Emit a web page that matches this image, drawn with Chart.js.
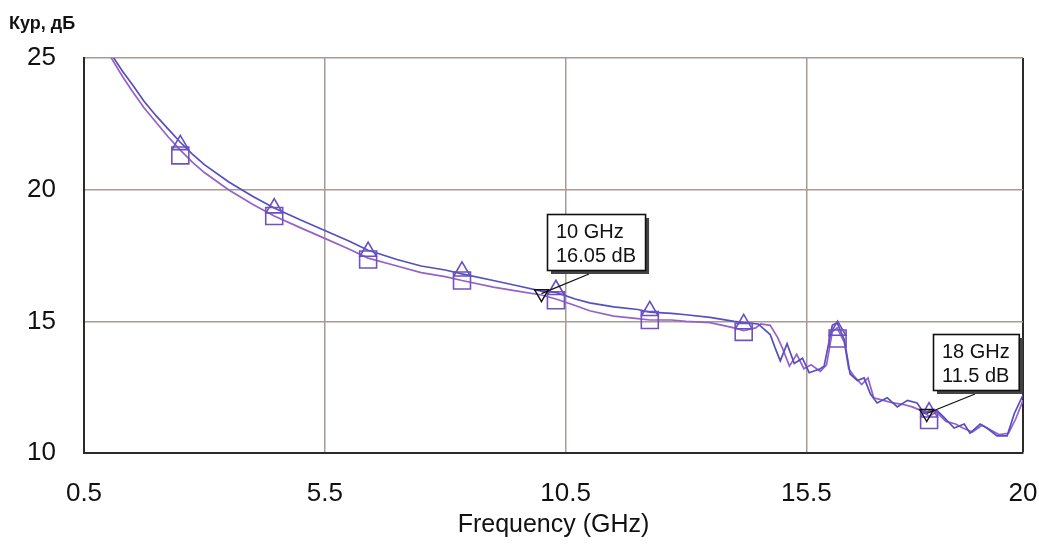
<!DOCTYPE html>
<html>
<head>
<meta charset="utf-8">
<script src="https://cdn.jsdelivr.net/npm/chart.js@4.4.1/dist/chart.umd.min.js"></script>
<style>
html,body{margin:0;padding:0;background:#fff;}
#wrap{position:relative;width:1039px;height:545px;}
</style>
</head>
<body>
<div id="wrap"><canvas id="c" width="1039" height="545"></canvas></div>
<script>
// ---- data ----
const yTitle = "Кур, дБ";
const xTitle = "Frequency (GHz)";
const xTickVals = [0.5, 5.5, 10.5, 15.5, 20];
const yTickVals = [10, 15, 20, 25];

// upper curve (triangles)
const freqA = [1.05, 1.1, 1.3, 1.5, 1.75, 2.0, 2.25, 2.5, 2.75, 3.0, 3.5, 4.0, 4.45, 5.0, 5.5, 6.0, 6.4, 7.0, 7.5, 8.0, 8.35, 9.0, 9.5, 10.0, 10.3, 10.7, 11.0, 11.5, 12.0, 12.25, 12.7, 13.0, 13.5, 14.0, 14.2, 14.5, 14.75, 14.85, 14.96, 15.1, 15.25, 15.42, 15.56, 15.79, 15.87, 16.04, 16.14, 16.29, 16.41, 16.56, 16.7, 16.83, 16.97, 17.18, 17.39, 17.6, 17.8, 17.95, 18.1, 18.22, 18.36, 18.57, 18.78, 18.9, 19.11, 19.25, 19.46, 19.67, 19.82, 20.0];
const valA  = [25.2, 25.05, 24.5, 24.0, 23.35, 22.8, 22.3, 21.8, 21.35, 20.95, 20.3, 19.75, 19.3, 18.85, 18.45, 18.05, 17.7, 17.35, 17.1, 16.95, 16.8, 16.55, 16.35, 16.15, 16.1, 15.85, 15.7, 15.55, 15.45, 15.35, 15.3, 15.25, 15.15, 15.0, 14.95, 14.9, 14.5, 14.0, 13.5, 14.15, 13.4, 13.6, 13.05, 13.2, 13.3, 14.85, 14.95, 14.3, 13.0, 12.75, 12.85, 12.25, 11.9, 12.1, 11.75, 12.0, 11.9, 11.5, 11.65, 11.6, 11.35, 10.95, 11.1, 10.75, 11.1, 10.95, 10.65, 10.65, 11.5, 12.2];

// lower curve (squares)
const freqB = [1.0, 1.05, 1.3, 1.5, 1.75, 2.0, 2.25, 2.5, 2.75, 3.0, 3.5, 4.0, 4.45, 5.0, 5.5, 6.0, 6.4, 7.0, 7.5, 8.0, 8.35, 9.0, 9.5, 10.0, 10.3, 10.7, 11.0, 11.5, 12.0, 12.25, 12.7, 13.0, 13.5, 14.0, 14.2, 14.45, 14.55, 14.75, 14.9, 15.0, 15.15, 15.3, 15.45, 15.6, 15.79, 15.92, 16.04, 16.14, 16.29, 16.38, 16.5, 16.65, 16.78, 16.9, 17.1, 17.3, 17.5, 17.7, 17.9, 18.05, 18.2, 18.4, 18.6, 18.75, 18.95, 19.15, 19.3, 19.5, 19.7, 19.85, 20.0];
const valB  = [25.2, 25.05, 24.3, 23.75, 23.1, 22.55, 22.0, 21.5, 21.05, 20.65, 20.0, 19.45, 19.0, 18.55, 18.15, 17.75, 17.4, 17.1, 16.85, 16.7, 16.55, 16.3, 16.15, 16.0, 15.85, 15.6, 15.4, 15.2, 15.1, 15.05, 15.05, 15.0, 14.95, 14.75, 14.65, 14.75, 14.9, 14.85, 14.4, 14.0, 13.3, 13.75, 13.2, 13.35, 13.1, 13.35, 14.6, 14.75, 14.2, 13.2, 12.9, 12.6, 12.85, 12.1, 12.0, 11.9, 11.85, 11.75, 11.6, 11.4, 11.55, 11.2, 11.1, 10.95, 10.8, 11.05, 10.9, 10.7, 10.75, 11.3, 12.0];

// marker positions
const markFreq = [2.5, 4.45, 6.4, 8.35, 10.3, 12.25, 14.2, 16.15, 18.05];
const markTri  = [21.7, 19.3, 17.65, 16.9, 16.2, 15.4, 14.9, 14.65, 11.55];
const markSq   = [21.3, 19.0, 17.35, 16.55, 15.8, 15.05, 14.6, 14.35, 11.25];

// annotations
const annFreq = [10, 18];
const annVal  = [16.05, 11.5];
const annText = [["10 GHz", "16.05 dB"], ["18 GHz", "11.5 dB"]];

// ---- styles ----
const colA = "#5450bf";
const colB = "#9761c8";
const colTri = "#6650c2";
const colSq = "#7352bd";
const gridCol = "#a89b95";
const axisCol = "#2a2a2a";
const FONT = "'Liberation Sans', Arial, sans-serif";

const pts = (xs, ys) => xs.map((x, i) => ({x: x, y: ys[i]}));

const textPlugin = {
  id: 'texts',
  afterDraw(chart) {
    const ctx = chart.ctx;
    const ca = chart.chartArea;
    ctx.save();
    ctx.fillStyle = "#111";
    ctx.font = "bold 18px " + FONT;
    ctx.textAlign = "left";
    ctx.textBaseline = "alphabetic";
    ctx.fillText(yTitle, 9, 29);
    ctx.font = "25px " + FONT;
    ctx.textAlign = "center";
    ctx.textBaseline = "middle";
    ctx.fillText(xTitle, (ca.left + ca.right) / 2, 525);

    // annotations
    const xs = chart.scales.x, ys = chart.scales.y;
    ctx.font = "20px " + FONT;
    annFreq.forEach((f, i) => {
      const px = xs.getPixelForValue(f);
      const py = ys.getPixelForValue(annVal[i]);
      const lines = annText[i];
      const w = Math.max(...lines.map(t => ctx.measureText(t).width)) + 18;
      const h = 56;
      const bx = Math.round(px + 6), by = Math.round(py - 80);
      // leader
      ctx.strokeStyle = "#111";
      ctx.lineWidth = 1.3;
      ctx.beginPath();
      ctx.moveTo(px, py);
      ctx.lineTo(bx + 42, by + h + 4);
      ctx.stroke();
      // shadow
      ctx.fillStyle = "#444";
      ctx.fillRect(bx + 4, by + 4, w, h);
      ctx.fillStyle = "#fff";
      ctx.fillRect(bx, by, w, h);
      ctx.strokeStyle = "#111";
      ctx.lineWidth = 1.6;
      ctx.strokeRect(bx + 0.5, by + 0.5, w, h);
      ctx.fillStyle = "#111";
      ctx.textAlign = "left";
      ctx.textBaseline = "alphabetic";
      ctx.fillText(lines[0], bx + 9, by + 24);
      ctx.fillText(lines[1], bx + 9, by + 48);
    });
    ctx.restore();
  }
};

new Chart(document.getElementById('c'), {
  type: 'scatter',
  data: {
    datasets: [
      {data: pts(annFreq, annVal), showLine: false, pointStyle: 'triangle', rotation: 180, pointRadius: 8, borderColor: "#111", backgroundColor: "rgba(0,0,0,0)", borderWidth: 1.4, order: 0},
      {data: pts(markFreq, markTri), showLine: false, pointStyle: 'triangle', pointRadius: 9.5, borderColor: colTri, backgroundColor: "rgba(0,0,0,0)", borderWidth: 1.6, order: 1},
      {data: pts(markFreq, markSq), showLine: false, pointStyle: 'rect', pointRadius: 12, borderColor: colSq, backgroundColor: "rgba(0,0,0,0)", borderWidth: 1.6, order: 2},
      {data: pts(freqA, valA), showLine: true, borderColor: colA, borderWidth: 1.7, pointRadius: 0, tension: 0, order: 3},
      {data: pts(freqB, valB), showLine: true, borderColor: colB, borderWidth: 1.7, pointRadius: 0, tension: 0, order: 4}
    ]
  },
  options: {
    responsive: false,
    animation: false,
    events: [],
    layout: {padding: {top: 58, right: 16, bottom: 0, left: 0}},
    plugins: {legend: {display: false}, tooltip: {enabled: false}},
    scales: {
      x: {
        type: 'linear', min: 0.5, max: 20,
        afterBuildTicks: s => { s.ticks = xTickVals.map(v => ({value: v})); },
        afterFit: s => { s.height = 92; s.paddingLeft = 0; s.paddingRight = 0; s.paddingTop = 0; s.paddingBottom = 0; },
        ticks: {color: "#111", font: {family: FONT, size: 26}, padding: 25, maxRotation: 0, autoSkip: false, callback: v => String(v)},
        grid: {
          drawTicks: false,
          color: c => (c.tick && c.tick.value === 20) ? axisCol : gridCol,
          lineWidth: c => (c.tick && c.tick.value === 20) ? 2 : 1.5
        },
        border: {display: true, color: axisCol, width: 2}
      },
      y: {
        type: 'linear', min: 10, max: 25,
        afterBuildTicks: s => { s.ticks = yTickVals.map(v => ({value: v})); },
        afterFit: s => { s.width = 84; s.paddingLeft = 0; s.paddingRight = 0; s.paddingTop = 0; s.paddingBottom = 0; },
        ticks: {color: "#111", font: {family: FONT, size: 26}, padding: 28, callback: v => String(v)},
        grid: {drawTicks: false, color: gridCol, lineWidth: 1.5},
        border: {display: true, color: axisCol, width: 2}
      }
    }
  },
  plugins: [textPlugin]
});
</script>
</body>
</html>
